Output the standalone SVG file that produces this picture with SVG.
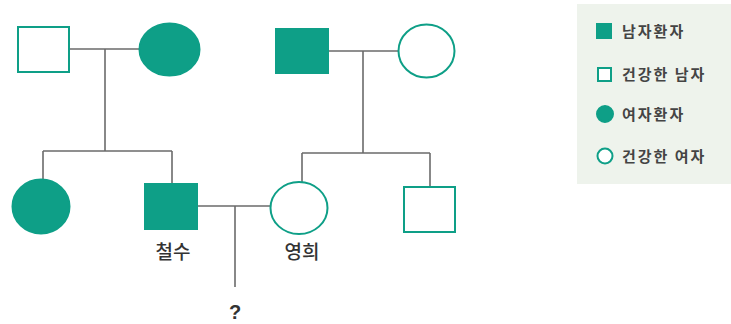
<svg xmlns="http://www.w3.org/2000/svg" width="731" height="324" viewBox="0 0 731 324">
<style>
.fill{fill:#0e9f87;stroke:#0e9f87;stroke-width:2}
.open{fill:#fff;stroke:#0e9f87;stroke-width:2}
.ln{fill:none;stroke:#6b6b6b;stroke-width:1.6}
.lbl{font-family:"Noto Sans CJK KR","Noto Sans",sans-serif;font-size:19px;font-weight:500;fill:#333;text-anchor:middle}
.q{font-family:"Liberation Sans",Arial,sans-serif;font-size:20px;font-weight:bold;fill:#333;text-anchor:middle}
.lg{font-family:"Noto Sans CJK KR","Noto Sans",sans-serif;font-size:15px;font-weight:bold;fill:#444;letter-spacing:2px}
</style>
<rect width="731" height="324" fill="#fff"/>
<g id="connectors">
<path class="ln" d="M69 49H139M105 49V151M43 151H172M43 151V179M172 151V184"/>
<path class="ln" d="M328 51H398M363 51V153M302 153H430M302 153V182M430 153V187"/>
<path class="ln" d="M197 206H270M235 206V287"/>
</g>
<g id="gf1"><rect class="open" x="18" y="27" width="51" height="45"/></g>
<g id="gm1"><ellipse class="fill" cx="169.5" cy="49.5" rx="30" ry="26"/></g>
<g id="gf2"><rect class="fill" x="276" y="29" width="52" height="44"/></g>
<g id="gm2"><ellipse class="open" cx="426.5" cy="51" rx="28" ry="26.5"/></g>
<g id="sister"><ellipse class="fill" cx="41" cy="206.5" rx="28.5" ry="27"/></g>
<g id="chulsu"><rect class="fill" x="145" y="184" width="52" height="45"/><text class="lbl" x="173" y="259">철수</text></g>
<g id="younghee"><ellipse class="open" cx="299" cy="208" rx="28.5" ry="26"/><text class="lbl" x="302" y="259">영희</text></g>
<g id="brother"><rect class="open" x="404" y="187" width="51" height="45"/></g>
<g id="child"><text class="q" x="235" y="319">?</text></g>
<g id="legend">
<rect x="577" y="4" width="154" height="180" fill="#eef3ec"/>
<rect class="fill" x="597" y="24" width="14" height="14" stroke-width="1"/>
<text class="lg" x="622" y="37">남자환자</text>
<rect class="open" x="598" y="68" width="13" height="13" stroke-width="2"/>
<text class="lg" x="622" y="80">건강한 남자</text>
<circle class="fill" cx="605" cy="114" r="8" stroke-width="1"/>
<text class="lg" x="622" y="120">여자환자</text>
<circle class="open" cx="605" cy="156" r="7.5" stroke-width="2.5"/>
<text class="lg" x="622" y="162">건강한 여자</text>
</g>
</svg>
